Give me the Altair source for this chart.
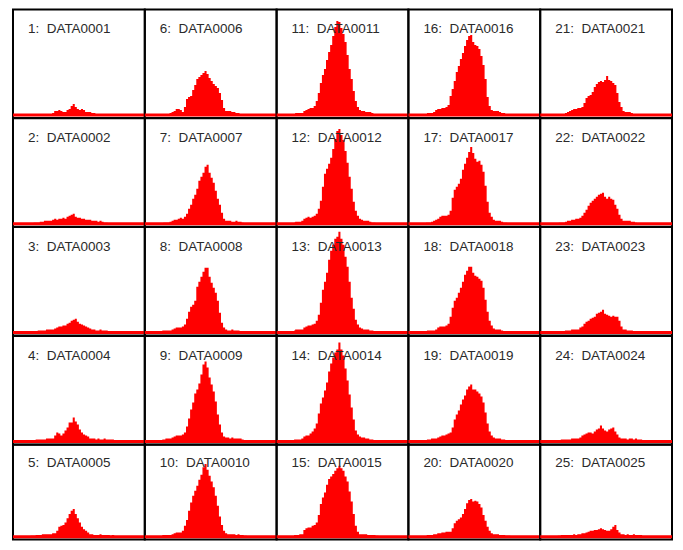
import altair as alt
import pandas as pd

# Histogram counts per sample, bins of 4 channels starting at bin 8 (channel 32)
BIN_START = 8
BIN_WIDTH = 4
CHANNEL_MAX = 256

P01 = [0,0,0,0,0,0,0,0,1,1, 1,2,4,4,5,4,3,3,5,6, 9,11,8,6,5,6,5,3,3,3, 2,2,1,1,1,1,0,0,0,0, 0,0]
P02 = [0,0,1,1,1,2,2,3,3,3, 3,4,5,4,5,5,6,5,7,8, 9,10,7,6,6,5,5,4,4,4, 3,3,3,2,3,2,1,1,0,0, 0,0]
P03 = [0,0,0,1,2,2,2,2,3,3, 3,3,4,5,6,6,7,7,9,10, 12,13,14,11,9,8,7,6,5,4, 3,3,2,2,3,2,2,2,1,0, 0,0]
P04 = [1,1,1,2,2,2,2,2,3,3, 3,3,6,9,8,6,8,11,14,19, 19,24,20,17,12,9,7,6,5,3, 3,3,2,3,2,2,3,2,2,2, 2,1]
P05 = [1,1,1,2,2,2,3,3,3,3, 3,4,4,7,12,13,14,17,22,27, 31,33,27,22,17,12,9,7,5,3, 3,2,2,2,3,2,2,2,2,1, 2,1]
P06 = [1,1,1,1,2,3,4,6,6,5, 3,8,16,18,19,25,30,36,38,40, 42,44,41,37,34,31,29,27,22,15, 7,4,4,4,3,3,2,2,1,1, 0,0]
P07 = [0,1,1,1,2,3,4,4,5,6, 5,7,10,15,19,25,29,35,43,47, 51,57,59,51,46,41,33,25,19,11, 5,3,3,3,2,2,3,2,2,1, 0,0]
P08 = [2,2,2,2,2,3,4,5,5,5, 6,8,14,21,26,28,32,46,51,56, 61,65,65,56,50,45,40,32,20,10, 5,3,2,2,3,2,2,2,1,1, 0,0]
P09 = [2,2,3,3,3,4,5,6,6,6, 7,9,15,23,32,39,48,52,58,67, 77,80,74,64,57,50,40,27,17,9, 5,4,4,3,4,3,3,3,3,2, 1,1]
P10 = [2,2,2,2,2,3,4,5,5,5, 7,13,20,31,41,49,55,61,68,74, 83,87,80,73,66,59,49,37,24,14, 7,4,3,3,3,3,2,3,2,2, 1,1]
P11 = [1,2,2,2,2,4,5,6,7,7, 9,14,22,32,40,46,55,63,70,79, 88,94,93,87,81,73,60,46,36,24, 14,8,5,4,4,3,3,3,2,1, 1,0]
P12 = [1,2,2,2,3,5,6,7,6,7, 8,10,15,23,37,50,55,60,66,75, 85,93,95,89,84,73,61,47,35,22, 13,8,5,4,3,3,3,2,1,1, 0,0]
P13 = [2,3,3,3,3,5,6,7,7,8, 9,12,18,30,43,51,60,73,82,88, 94,96,101,94,88,76,66,51,35,24, 13,8,5,4,3,3,3,2,2,1, 0,0]
P14 = [2,2,2,2,3,5,6,6,8,10, 13,18,28,38,44,51,59,70,78,84, 89,92,99,92,86,73,61,47,34,22, 11,7,5,4,4,3,3,2,2,1, 1,0]
P15 = [2,2,2,3,3,8,10,11,11,13, 14,17,26,39,47,53,62,69,72,75, 79,82,85,82,79,72,66,54,42,27, 13,6,3,3,3,3,2,2,2,2, 1,1]
P16 = [1,2,2,2,3,5,6,6,7,7, 8,10,19,26,34,43,49,56,62,69, 75,79,80,73,70,69,66,59,50,36, 18,9,5,4,4,4,3,2,2,1, 0,0]
P17 = [1,1,1,2,3,4,5,7,8,8, 8,9,13,26,34,37,40,45,54,60, 66,72,77,71,65,62,63,59,52,38, 22,11,7,4,3,3,3,2,1,1, 0,0]
P18 = [1,2,2,2,2,3,5,6,6,6, 7,9,16,25,32,35,40,45,51,58, 62,66,66,60,57,56,54,52,45,33, 21,12,7,4,3,3,3,2,1,1, 0,0]
P19 = [1,2,2,3,3,3,4,5,6,6, 7,8,9,14,22,27,31,37,42,46, 52,55,57,52,52,50,48,45,39,29, 18,10,6,4,3,3,3,2,2,1, 1,0]
P20 = [1,2,2,2,3,3,4,4,5,5, 6,6,6,10,16,19,21,23,27,33, 40,44,45,42,43,42,39,35,26,19, 12,7,4,3,3,3,2,2,2,1, 1,1]
P21 = [0,1,1,1,2,3,4,5,6,6, 7,7,8,12,17,19,20,23,28,31, 33,34,33,35,39,35,34,32,30,22, 13,8,4,3,3,3,2,1,1,0, 0,0]
P22 = [0,1,1,1,2,3,3,4,4,5, 5,6,8,11,14,18,21,23,25,27, 29,30,31,27,25,27,25,24,19,15, 9,5,3,3,3,3,2,2,1,0, 0,0]
P23 = [1,1,1,1,2,2,2,3,3,3, 3,5,6,9,11,12,14,15,16,19, 20,21,23,19,18,17,16,17,16,16, 12,6,3,3,2,2,2,1,1,0, 0,0]
P24 = [1,1,2,2,2,2,2,3,3,3, 3,4,6,7,8,9,9,8,10,12, 13,16,13,11,10,12,13,14,10,7, 4,3,3,3,2,3,3,2,3,2, 2,2]
P25 = [1,1,2,2,2,2,2,2,3,2, 3,3,4,4,5,6,7,7,8,8, 9,10,9,8,7,7,9,12,14,8, 5,3,3,2,3,2,2,3,2,2, 2,2]

PANELS = [P01, P02, P03, P04, P05, P06, P07, P08, P09, P10,
          P11, P12, P13, P14, P15, P16, P17, P18, P19, P20,
          P21, P22, P23, P24, P25]
NAMES = [f"DATA{i:04d}" for i in range(1, 26)]
# non-breaking space keeps the double gap after the colon in SVG text
LABELS = [f"{i + 1}:\u00a0 {NAMES[i]}" for i in range(25)]

RED = "#ff0000"
PANEL_W = 132
ROW_H = [108.7, 108.7, 108.7, 108.7, 95]          # last row is cut by the page edge
ROW_YDOM = [[-3, 105.7]] * 4 + [[-3.5, 110]]
ROW_LABEL_Y = [20, 20, 20, 20, 18]
X_SCALE = alt.Scale(domain=[0, CHANNEL_MAX], nice=False, zero=False)


def panel(i, row):
    counts = PANELS[i]
    df = pd.DataFrame({
        "channel": [(BIN_START + j) * BIN_WIDTH + BIN_WIDTH / 2 for j in range(len(counts))],
        "count": counts,
    })
    lab = pd.DataFrame({"label": [LABELS[i]]})
    ysc = alt.Scale(domain=ROW_YDOM[row], nice=False, zero=False)
    area = alt.Chart(df).mark_area(interpolate="step", color=RED, clip=True).encode(
        x=alt.X("channel:Q", scale=X_SCALE, axis=None),
        y=alt.Y("count:Q", scale=ysc, axis=None),
        y2=alt.datum(0),
    )
    band = alt.Chart(lab).mark_rule(color=RED, strokeWidth=3).encode(
        y=alt.Y(datum=0, type="quantitative", scale=ysc, axis=None),
    )
    text = alt.Chart(lab).mark_text(
        align="left", baseline="middle", font="Liberation Sans", fontSize=13.5, color="#2a2a2a"
    ).encode(x=alt.value(15), y=alt.value(ROW_LABEL_Y[row]), text="label:N")
    return alt.layer(area, band, text).properties(width=PANEL_W, height=ROW_H[row])


cells = [panel(r + 5 * c, r) for r in range(5) for c in range(5)]
chart = alt.concat(*cells, columns=5, spacing=0, bounds="flush").properties(
    padding={"left": 2, "top": 0, "right": 0, "bottom": 0}
).configure_view(stroke="black", strokeWidth=2)

chart.save("out.html", embed_options={"renderer": "svg", "actions": False})
